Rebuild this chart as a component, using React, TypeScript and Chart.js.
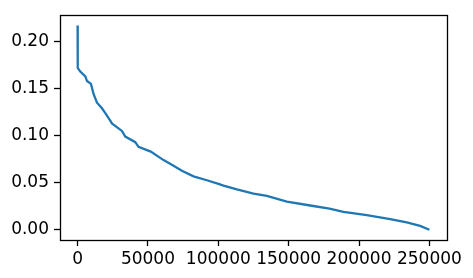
import React, { useEffect, useRef } from "react";
import { Chart, registerables } from "chart.js";

Chart.register(...registerables);

const xValues = [0, 100, 1900, 5500, 6700, 9500, 11400, 13800, 17300, 19700, 23200, 24400, 31500, 33900, 41000, 43300, 52000, 61100, 68200, 74100, 82400, 91900, 100100, 103700, 113200, 125000, 134500, 148700, 165300, 179000, 188900, 205500, 222100, 233900, 243400, 250000];
const yValues = [0.217, 0.172, 0.168, 0.163, 0.158, 0.155, 0.144, 0.135, 0.129, 0.124, 0.116, 0.113, 0.105, 0.099, 0.093, 0.088, 0.083, 0.074, 0.068, 0.0626, 0.0567, 0.0526, 0.0488, 0.047, 0.043, 0.0385, 0.036, 0.030, 0.0258, 0.0224, 0.0189, 0.0155, 0.0113, 0.0079, 0.0041, 0.0];
const xTicks = [0, 50000, 100000, 150000, 200000, 250000];
const yTicks = [0, 0.05, 0.1, 0.15, 0.2];

const FONT = "'DejaVu Sans', sans-serif";

export default function App() {
  const ref = useRef<HTMLCanvasElement>(null);
  useEffect(() => {
    document.body.style.margin = "0";
    const ctx = ref.current!;
    const frame = {
      id: "frame",
      afterDraw(chart: any) {
        const { ctx, chartArea } = chart;
        ctx.save();
        ctx.strokeStyle = "#000";
        ctx.lineWidth = 1.3;
        ctx.strokeRect(
          Math.round(chartArea.left) + 0.5,
          Math.round(chartArea.top) + 0.5,
          Math.round(chartArea.right - chartArea.left),
          Math.round(chartArea.bottom - chartArea.top)
        );
        ctx.restore();
      },
    };
    const chart = new Chart(ctx, {
      type: "scatter",
      data: {
        datasets: [
          {
            data: xValues.map((x, i) => ({ x, y: yValues[i] })),
            showLine: true,
            borderColor: "#1f77b4",
            borderWidth: 2.3,
            pointRadius: 0,
            tension: 0,
          },
        ],
      },
      options: {
        animation: false,
        responsive: false,
        devicePixelRatio: 1,
        layout: { padding: { top: 9, right: 26, left: 0, bottom: 0 } },
        plugins: { legend: { display: false }, tooltip: { enabled: false } },
        scales: {
          x: {
            type: "linear",
            min: -12500,
            max: 262500,
            afterBuildTicks: (s: any) => {
              s.ticks = xTicks.map((v) => ({ value: v }));
            },
            afterFit: (s: any) => {
              s.height = 38;
            },
            grid: { display: true, drawOnChartArea: false, drawTicks: true, tickLength: 6, color: "#000", tickWidth: 1.3 },
            border: { display: false },
            ticks: {
              color: "#000",
              font: { family: FONT, size: 17 },
              padding: 3,
              maxRotation: 0,
              autoSkip: false,
              callback: (v: any) => String(v),
            },
          },
          y: {
            type: "linear",
            min: -0.01085,
            max: 0.2279,
            afterBuildTicks: (s: any) => {
              s.ticks = yTicks.map((v) => ({ value: v }));
            },
            afterFit: (s: any) => {
              s.width = 60;
            },
            grid: { display: true, drawOnChartArea: false, drawTicks: true, tickLength: 6, color: "#000", tickWidth: 1.3 },
            border: { display: false },
            ticks: {
              color: "#000",
              font: { family: FONT, size: 17 },
              padding: 5,
              autoSkip: false,
              callback: (v: any) => Number(v).toFixed(2),
            },
          },
        },
      },
      plugins: [frame],
    });
    return () => chart.destroy();
  }, []);
  return (
    <div style={{ width: 473, height: 278, position: "relative" }}>
      <canvas ref={ref} width={473} height={278} style={{ width: 473, height: 278, display: "block" }} />
    </div>
  );
}
